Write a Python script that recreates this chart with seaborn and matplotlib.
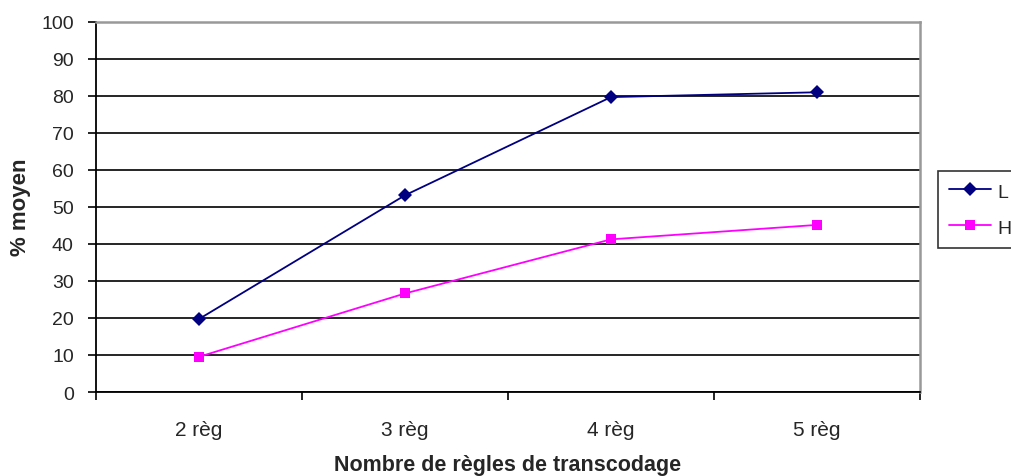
import matplotlib
matplotlib.use("Agg")
import matplotlib.pyplot as plt
import seaborn as sns
import pandas as pd
from matplotlib.lines import Line2D

categories = ["2 règ", "3 règ", "4 règ", "5 règ"]
series_L = [19.7, 53.1, 79.6, 80.9]
series_H = [9.5, 26.6, 41.2, 45.1]
y_ticks = [0, 10, 20, 30, 40, 50, 60, 70, 80, 90, 100]

sns.set_theme(style="white")
plt.rcParams["font.family"] = ["Liberation Sans", "DejaVu Sans"]

df = pd.DataFrame({
    "pos": list(range(len(categories))) * 2,
    "val": series_L + series_H,
    "serie": ["L"] * len(categories) + ["H"] * len(categories),
})

colors = {"L": "#000080", "H": "#FF00FF"}
markers = {"L": "D", "H": "s"}

fig = plt.figure(figsize=(10.12, 4.77), dpi=100)
ax = fig.add_axes([96 / 1012, 1 - 393 / 477, (920 - 96) / 1012, (393 - 22.5) / 477])

sns.lineplot(data=df, x="pos", y="val", hue="serie", style="serie",
             palette=colors, markers=markers, dashes=False, ax=ax,
             linewidth=1.3, markersize=7.5, markeredgewidth=0, legend=False)

ax.set_xlim(-0.5, len(categories) - 0.5)
ax.set_ylim(0, 100)
ax.set_yticks(y_ticks)
ax.yaxis.grid(True, color="black", linewidth=1.2)
ax.xaxis.grid(False)
ax.set_axisbelow(True)

# Category boundaries carry tick marks, labels sit at centres
ax.set_xticks([i - 0.5 for i in range(len(categories) + 1)])
ax.set_xticklabels([])
ax.set_xticks(list(range(len(categories))), minor=True)
ax.set_xticklabels(categories, minor=True, fontsize=15)
ax.tick_params(axis="x", which="major", direction="out", length=5.5, width=1.2, color="black", bottom=True)
ax.tick_params(axis="x", which="minor", length=0, pad=20)
ax.tick_params(axis="y", direction="out", length=6, width=1.2, color="black", left=True, labelsize=14, pad=10)

for side in ("left", "bottom"):
    ax.spines[side].set_color("black")
    ax.spines[side].set_linewidth(1.3)
for side in ("top", "right"):
    ax.spines[side].set_color("#999999")
    ax.spines[side].set_linewidth(1.8)

ax.set_xlabel("Nombre de règles de transcodage", fontsize=15.5, fontweight="bold", labelpad=11)
ax.set_ylabel("% moyen", fontsize=16, fontweight="bold", labelpad=7)

handles = [Line2D([], [], color=colors[s], marker=markers[s], markersize=7.5,
                  markeredgewidth=0, linewidth=1.3) for s in ("L", "H")]
leg = fig.legend(handles, ["L", "H"], loc="upper left",
                 bbox_to_anchor=(938 / 1012, 1 - 172 / 477),
                 bbox_transform=fig.transFigure, fontsize=14,
                 frameon=True, fancybox=False, handlelength=2.2,
                 handleheight=1.0, borderpad=0.55, borderaxespad=0,
                 labelspacing=0.85, handletextpad=0.3)
leg.get_frame().set_edgecolor("black")
leg.get_frame().set_linewidth(1.2)

fig.savefig("out.png", dpi=100)
